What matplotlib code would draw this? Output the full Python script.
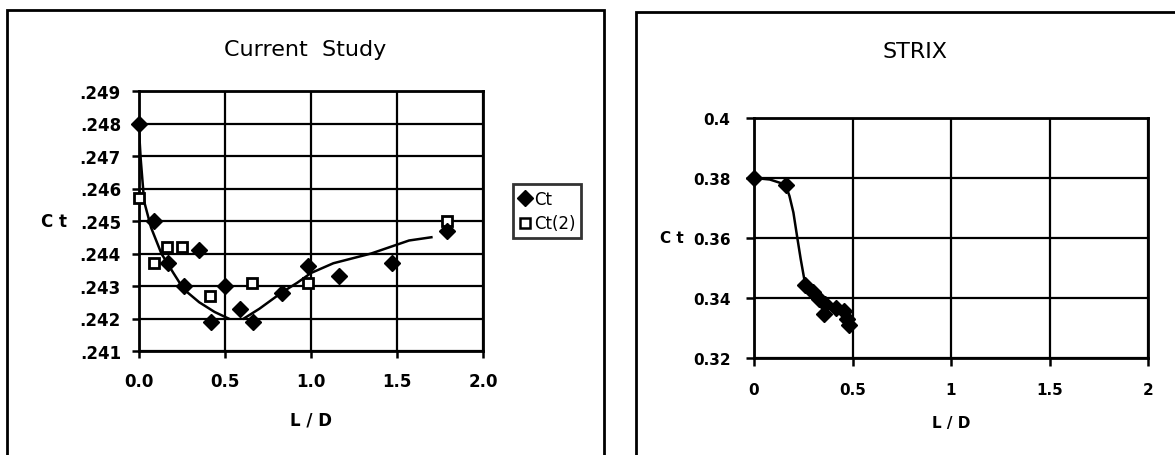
import matplotlib.pyplot as plt
import matplotlib.patches as patches
from matplotlib.lines import Line2D

# Current Study data
ct_x = [0.0, 0.09, 0.17, 0.26, 0.35, 0.42, 0.50, 0.585, 0.665, 0.83, 0.98, 1.16, 1.47, 1.79]
ct_y = [.2480, .2450, .2437, .2430, .2441, .2419, .2430, .2423, .2419, .2428, .2436, .2433, .2437, .2447]
ct2_x = [0.0, 0.087, 0.16, 0.25, 0.41, 0.655, 0.98, 1.79]
ct2_y = [.2457, .2437, .2442, .2442, .2427, .2431, .2431, .2450]

# trend lines
trend1_x = [0.0, 0.01, 0.03, 0.07, 0.13, 0.20, 0.26, 0.35, 0.44, 0.52]
trend1_y = [.2478, .2469, .2456, .2448, .2440, .2434, .2429, .2425, .2422, .2420]
trend2_x = [0.61, 0.70, 0.83, 0.92, 1.00, 1.13, 1.35, 1.46, 1.57, 1.70]
trend2_y = [.2420, .2423, .2428, .2431, .2434, .2437, .2440, .2442, .2444, .2445]

# STRIX data
strix_x = [0.0, 0.16, 0.26, 0.30, 0.33, 0.355, 0.36, 0.417, 0.455, 0.47, 0.48]
strix_y = [0.380, 0.3778, 0.3445, 0.342, 0.3398, 0.3345, 0.338, 0.3365, 0.3355, 0.333, 0.331]
strix_line_x = [0.0, 0.08, 0.16, 0.18, 0.20, 0.22, 0.237, 0.26, 0.30, 0.36, 0.417, 0.455, 0.48]
strix_line_y = [0.380, 0.3795, 0.3778, 0.374, 0.3685, 0.360, 0.353, 0.3445, 0.342, 0.338, 0.3365, 0.3355, 0.331]

left_xticks = [0.0, 0.5, 1.0, 1.5, 2.0]
left_xlabels = ['0.0', '0.5', '1.0', '1.5', '2.0']
left_yticks = [.241, .242, .243, .244, .245, .246, .247, .248, .249]
left_ylabels = ['.241', '.242', '.243', '.244', '.245', '.246', '.247', '.248', '.249']
right_xticks = [0, 0.5, 1, 1.5, 2]
right_xlabels = ['0', '0.5', '1', '1.5', '2']
right_yticks = [0.32, 0.34, 0.36, 0.38, 0.4]
right_ylabels = ['0.32', '0.34', '0.36', '0.38', '0.4']

W, H = 1175, 456
fig = plt.figure(figsize=(W / 100, H / 100), dpi=100)


def px_rect(x0, y0, x1, y1):
    # pixel box (top-left origin) -> figure fraction rect
    return [x0 / W, 1 - y1 / H, (x1 - x0) / W, (y1 - y0) / H]


# outer frames
fig.patches.append(patches.Rectangle((7 / W, -0.05), 597 / W, 1.05 - 11 / H, transform=fig.transFigure,
                                     fill=False, lw=2, ec='black'))
fig.patches.append(patches.Rectangle((636 / W, -0.05), 600 / W, 1.05 - 13 / H, transform=fig.transFigure,
                                     fill=False, lw=2, ec='black'))


def style_axes(ax):
    ax.grid(True, color='black', lw=1.6)
    ax.set_axisbelow(True)
    for s in ax.spines.values():
        s.set_linewidth(2)
    ax.tick_params(direction='out', length=5, width=1.8, color='black')


# left panel
ax1 = fig.add_axes(px_rect(139, 92, 483, 352))
ax1.plot(trend1_x, trend1_y, color='black', lw=1.8)
ax1.plot(trend2_x, trend2_y, color='black', lw=1.8)
ax1.plot(ct2_x, ct2_y, 's', ms=7, mfc='white', mec='black', mew=2, clip_on=False, zorder=3)
ax1.plot(ct_x, ct_y, 'D', ms=8.5, color='black', clip_on=False, zorder=4)
ax1.set_xlim(0, 2)
ax1.set_ylim(.241, .249)
ax1.set_xticks(left_xticks)
ax1.set_xticklabels(left_xlabels, fontsize=12, fontweight='bold')
ax1.set_yticks(left_yticks)
ax1.set_yticklabels(left_ylabels, fontsize=12, fontweight='bold')
style_axes(ax1)
ax1.tick_params(axis='x', pad=10)
ax1.tick_params(axis='y', pad=8)
ax1.set_xlabel('L / D', fontsize=12, fontweight='bold', labelpad=15)
fig.text(67 / W, 1 - 222 / H, 'C t', fontsize=12, fontweight='bold', ha='right', va='center')
fig.text(305 / W, 1 - 50 / H, 'Current  Study', fontsize=16, ha='center', va='center')

handles = [Line2D([], [], marker='D', ls='none', color='black', ms=8),
           Line2D([], [], marker='s', ls='none', mfc='white', mec='black', mew=1.8, ms=7)]
leg = fig.legend(handles, ['Ct', 'Ct(2)'], loc='upper left', bbox_to_anchor=(513 / W, 1 - 185 / H),
                 fontsize=12, frameon=True, fancybox=False, edgecolor='black', handlelength=0.7,
                 handletextpad=0.2, borderpad=0.35, labelspacing=0.4, borderaxespad=0)
leg.get_frame().set_linewidth(2)

# right panel
ax2 = fig.add_axes(px_rect(754, 119, 1148, 359))
ax2.plot(strix_line_x, strix_line_y, color='black', lw=1.8)
ax2.plot(strix_x, strix_y, 'D', color='black', ms=8, clip_on=False)
ax2.set_xlim(0, 2)
ax2.set_ylim(0.32, 0.4)
ax2.set_xticks(right_xticks)
ax2.set_xticklabels(right_xlabels, fontsize=11, fontweight='bold')
ax2.set_yticks(right_yticks)
ax2.set_yticklabels(right_ylabels, fontsize=11, fontweight='bold')
style_axes(ax2)
ax2.tick_params(length=6)
ax2.tick_params(axis='x', pad=11)
ax2.tick_params(axis='y', pad=11)
ax2.set_xlabel('L / D', fontsize=11, fontweight='bold', labelpad=13)
fig.text(684 / W, 1 - 239 / H, 'C t', fontsize=11, fontweight='bold', ha='right', va='center')
fig.text(915 / W, 1 - 52 / H, 'STRIX', fontsize=16, ha='center', va='center')

fig.savefig('out.png', dpi=100)
